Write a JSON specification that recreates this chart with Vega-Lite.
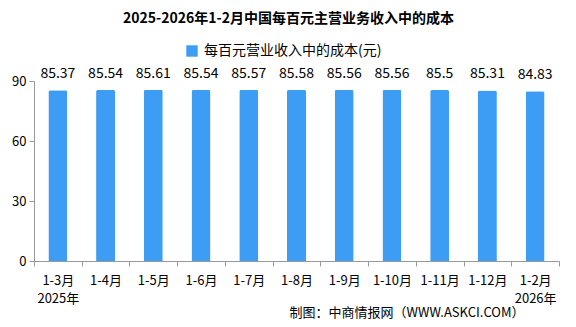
{
  "$schema": "https://vega.github.io/schema/vega-lite/v6.json",
  "width": 525,
  "height": 180,
  "autosize": {"type": "none"},
  "padding": {"left": 34, "top": 81, "right": 17, "bottom": 66},
  "background": "white",
  "config": {
    "font": "Noto Sans CJK SC",
    "view": {"stroke": null}
  },
  "title": {
    "text": "2025-2026年1-2月中国每百元主营业务收入中的成本",
    "fontSize": 14,
    "fontWeight": "bold",
    "color": "#000000",
    "anchor": "middle",
    "dx": -8,
    "offset": 18,
    "font": "Noto Sans CJK SC"
  },
  "data": {
    "values": [
      {"period": "1-3月", "value": 85.37},
      {"period": "1-4月", "value": 85.54},
      {"period": "1-5月", "value": 85.61},
      {"period": "1-6月", "value": 85.54},
      {"period": "1-7月", "value": 85.57},
      {"period": "1-8月", "value": 85.58},
      {"period": "1-9月", "value": 85.56},
      {"period": "1-10月", "value": 85.56},
      {"period": "1-11月", "value": 85.5},
      {"period": "1-12月", "value": 85.31},
      {"period": "1-2月", "value": 84.83}
    ]
  },
  "encoding": {
    "x": {
      "field": "period",
      "type": "nominal",
      "sort": null,
      "scale": {"paddingInner": 0, "paddingOuter": 0},
      "axis": {
        "title": "制图：中商情报网（WWW.ASKCI.COM）",
        "titleFontSize": 13,
        "titleFontWeight": "normal",
        "titleColor": "#000000",
        "titleAnchor": "end",
        "titleAlign": "right",
        "titleBaseline": "middle",
        "titleX": 490,
        "titleY": 51,
        "labelAngle": 0,
        "labelFontSize": 13,
        "labelColor": "#000000",
        "labelPadding": 8,
        "labelLineHeight": 18,
        "labelExpr": "datum.label == '1-3月' ? ['1-3月', '2025年'] : datum.label == '1-2月' ? ['1-2月', '2026年'] : datum.label",
        "tickBand": "extent",
        "tickSize": 5,
        "tickColor": "#999999",
        "domainColor": "#999999"
      }
    },
    "y": {
      "field": "value",
      "type": "quantitative",
      "scale": {"domain": [0, 90]},
      "axis": {
        "title": null,
        "values": [0, 30, 60, 90],
        "grid": false,
        "labelFontSize": 13,
        "labelColor": "#000000",
        "tickSize": 5,
        "tickColor": "#999999",
        "domainColor": "#999999",
        "labelPadding": 3
      }
    }
  },
  "layer": [
    {
      "mark": {"type": "bar", "size": 19, "cornerRadiusTopLeft": 2, "cornerRadiusTopRight": 2},
      "encoding": {
        "color": {
          "datum": "每百元营业收入中的成本(元)",
          "type": "nominal",
          "scale": {"range": ["#3D9CF3"]},
          "legend": {
            "title": null,
            "orient": "none",
            "legendX": 151,
            "legendY": -37,
            "symbolType": "square",
            "symbolSize": 130,
            "symbolStrokeWidth": 0,
            "labelFontSize": 14,
            "labelLimit": 400,
            "labelColor": "#000000",
            "labelOffset": 5
          }
        }
      }
    },
    {
      "mark": {"type": "text", "baseline": "middle", "dy": -16, "fontSize": 14, "color": "#000000"},
      "encoding": {
        "text": {"field": "value", "type": "quantitative"}
      }
    }
  ]
}
